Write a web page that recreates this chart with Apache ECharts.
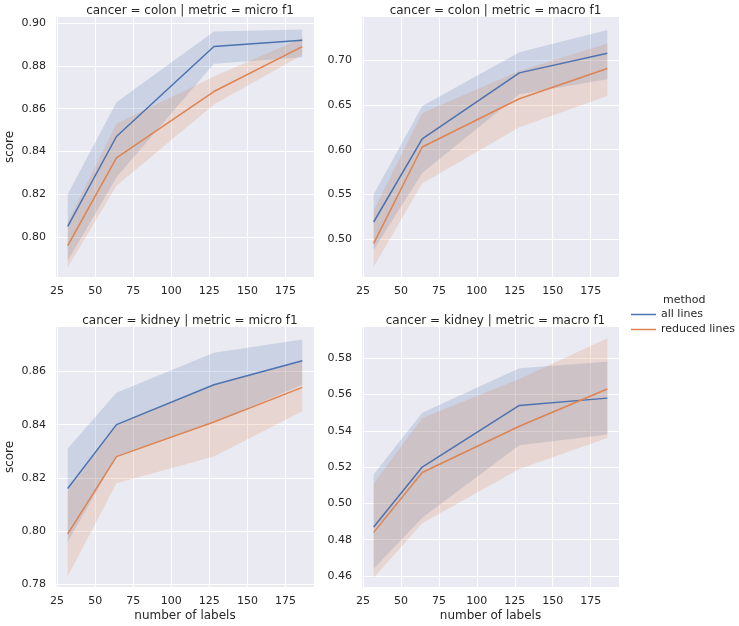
<!DOCTYPE html>
<html>
<head>
<meta charset="utf-8">
<script src="https://cdn.jsdelivr.net/npm/echarts@6/dist/echarts.min.js"></script>
<style>
html,body{margin:0;padding:0;background:#fff;}
#chart{width:739px;height:626px;}
</style>
</head>
<body>
<div id="chart"></div>
<script>
// x values: number of labels
var nLabels = [32, 64, 128, 186];
var xTicks = [25, 50, 75, 100, 125, 150, 175];

// colon | micro f1
var colonMicroAll   = [0.805, 0.847, 0.889, 0.892];
var colonMicroAllLo = [0.789, 0.828, 0.881, 0.884];
var colonMicroAllHi = [0.820, 0.863, 0.896, 0.897];
var colonMicroRed   = [0.796, 0.837, 0.868, 0.889];
var colonMicroRedLo = [0.786, 0.824, 0.862, 0.885];
var colonMicroRedHi = [0.807, 0.853, 0.875, 0.893];

// colon | macro f1
var colonMacroAll   = [0.519, 0.612, 0.686, 0.708];
var colonMacroAllLo = [0.488, 0.574, 0.662, 0.679];
var colonMacroAllHi = [0.550, 0.649, 0.709, 0.734];
var colonMacroRed   = [0.495, 0.603, 0.657, 0.691];
var colonMacroRedLo = [0.469, 0.562, 0.625, 0.660];
var colonMacroRedHi = [0.532, 0.641, 0.688, 0.719];

// kidney | micro f1
var kidneyMicroAll   = [0.816, 0.840, 0.855, 0.864];
var kidneyMicroAllLo = [0.796, 0.828, 0.841, 0.855];
var kidneyMicroAllHi = [0.831, 0.852, 0.867, 0.872];
var kidneyMicroRed   = [0.799, 0.828, 0.841, 0.854];
var kidneyMicroRedLo = [0.783, 0.818, 0.828, 0.845];
var kidneyMicroRedHi = [0.815, 0.840, 0.855, 0.864];

// kidney | macro f1
var kidneyMacroAll   = [0.487, 0.520, 0.554, 0.558];
var kidneyMacroAllLo = [0.464, 0.492, 0.532, 0.538];
var kidneyMacroAllHi = [0.516, 0.550, 0.5745, 0.578];
var kidneyMacroRed   = [0.484, 0.517, 0.5425, 0.563];
var kidneyMacroRedLo = [0.459, 0.489, 0.519, 0.536];
var kidneyMacroRedHi = [0.511, 0.547, 0.5685, 0.591];

var panelTitles = [
  'cancer = colon | metric = micro f1',
  'cancer = colon | metric = macro f1',
  'cancer = kidney | metric = micro f1',
  'cancer = kidney | metric = macro f1'
];
var yTicks = [
  [0.80, 0.82, 0.84, 0.86, 0.88, 0.90],
  [0.50, 0.55, 0.60, 0.65, 0.70],
  [0.78, 0.80, 0.82, 0.84, 0.86],
  [0.46, 0.48, 0.50, 0.52, 0.54, 0.56, 0.58]
];
var yRanges = [[0.7814, 0.9028], [0.4574, 0.7486], [0.7790, 0.8767], [0.4539, 0.5972]];
var seriesNames = ['all lines', 'reduced lines'];

var BLUE = '#4C72B0', ORANGE = '#DD8452', TXT = '#262626';
var FONT = 'DejaVu Sans';

var panels = [
  [colonMicroAll, colonMicroAllLo, colonMicroAllHi, colonMicroRed, colonMicroRedLo, colonMicroRedHi],
  [colonMacroAll, colonMacroAllLo, colonMacroAllHi, colonMacroRed, colonMacroRedLo, colonMacroRedHi],
  [kidneyMicroAll, kidneyMicroAllLo, kidneyMicroAllHi, kidneyMicroRed, kidneyMicroRedLo, kidneyMicroRedHi],
  [kidneyMacroAll, kidneyMacroAllLo, kidneyMacroAllHi, kidneyMacroRed, kidneyMacroRedLo, kidneyMacroRedHi]
];

var gridPos = [
  {left: 56, top: 17, width: 258, height: 260},
  {left: 362, top: 17, width: 257, height: 260},
  {left: 56, top: 327, width: 258, height: 260},
  {left: 362, top: 327, width: 257, height: 260}
];

var grids = [], xAxes = [], yAxes = [], series = [], titles = [];
gridPos.forEach(function (g, k) {
  grids.push({left: g.left, top: g.top, width: g.width, height: g.height, show: true,
    backgroundColor: '#EAEAF2', borderWidth: 0, containLabel: false});
  xAxes.push({
    type: 'value', gridIndex: k, min: 24.3, max: 193.7,
    axisLine: {show: false}, axisTick: {show: false, customValues: xTicks},
    axisLabel: {customValues: xTicks, color: TXT, fontSize: 11, fontFamily: FONT, margin: 9},
    splitLine: {show: true, lineStyle: {color: '#ffffff', width: 1}},
    name: k >= 2 ? 'number of labels' : '', nameLocation: 'middle', nameGap: 23,
    nameTextStyle: {color: TXT, fontSize: 12, fontFamily: FONT}
  });
  yAxes.push({
    type: 'value', gridIndex: k, min: yRanges[k][0], max: yRanges[k][1],
    axisLine: {show: false}, axisTick: {show: false, customValues: yTicks[k]},
    axisLabel: {customValues: yTicks[k], color: TXT, fontSize: 11, fontFamily: FONT, margin: 10,
      formatter: function (v) { return v.toFixed(2); }},
    splitLine: {show: true, lineStyle: {color: '#ffffff', width: 1}},
    name: (k % 2 === 0) ? 'score' : '', nameLocation: 'middle', nameGap: 40,
    nameTextStyle: {color: TXT, fontSize: 12, fontFamily: FONT}
  });
  titles.push({
    text: panelTitles[k], left: g.left + g.width / 2, top: g.top - 17, textAlign: 'center',
    textStyle: {color: TXT, fontSize: 12, fontWeight: 'normal', fontFamily: FONT}
  });
  var d = panels[k];
  function band(lo, hi, color) {
    return {
      type: 'custom', xAxisIndex: k, yAxisIndex: k, silent: true, z: 1,
      data: nLabels.map(function (x, i) { return [x, lo[i], hi[i]]; }),
      encode: {x: 0, y: [1, 2]},
      renderItem: function (params, api) {
        if (params.dataIndex !== 0) return null;
        var pts = [];
        for (var i = 0; i < nLabels.length; i++) pts.push(api.coord([nLabels[i], hi[i]]));
        for (var j = nLabels.length - 1; j >= 0; j--) pts.push(api.coord([nLabels[j], lo[j]]));
        return {type: 'polygon', shape: {points: pts}, style: {fill: color, opacity: 0.2}};
      }
    };
  }
  series.push(band(d[1], d[2], BLUE));
  series.push(band(d[4], d[5], ORANGE));
  [[d[0], BLUE, seriesNames[0]], [d[3], ORANGE, seriesNames[1]]].forEach(function (s) {
    series.push({
      type: 'line', name: s[2], xAxisIndex: k, yAxisIndex: k, z: 3,
      data: nLabels.map(function (x, i) { return [x, s[0][i]]; }),
      symbol: 'none', lineStyle: {color: s[1], width: 1.5}, itemStyle: {color: s[1]},
      animation: false
    });
  });
});

titles.push({
  text: 'method', left: 658, top: 290,
  textStyle: {color: TXT, fontSize: 11, fontWeight: 'normal', fontFamily: FONT}
});

var chart = echarts.init(document.getElementById('chart'), null, {renderer: 'canvas'});
chart.setOption({
  animation: false,
  backgroundColor: '#ffffff',
  title: titles,
  grid: grids,
  xAxis: xAxes,
  yAxis: yAxes,
  legend: {
    data: seriesNames, orient: 'vertical', left: 626, top: 302,
    icon: 'rect', itemWidth: 25, itemHeight: 1.5, itemGap: 0,
    textStyle: {color: TXT, fontSize: 11, fontFamily: FONT, lineHeight: 15}
  },
  series: series
});
</script>
</body>
</html>
